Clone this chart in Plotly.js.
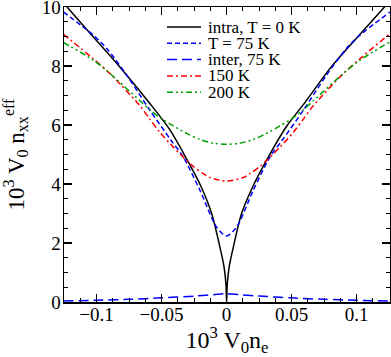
<!DOCTYPE html>
<html>
<head>
<meta charset="utf-8">
<script src="https://cdn.plot.ly/plotly-3.0.1.min.js"></script>
<style>html,body{margin:0;padding:0;background:#fff;}#chart{width:391px;height:357px;}</style>
</head>
<body>
<div id="chart"></div>
<script>
// intra, T = 0 K (black solid)
const xIntra = [-0.1255, -0.1218, -0.1026, -0.0821, -0.059, -0.0438, -0.0295, -0.02, -0.0115, -0.0052, -0.002, -0.0005, 0, 0.0005, 0.002, 0.0052, 0.0115, 0.02, 0.03, 0.046, 0.06, 0.0795, 0.1, 0.1205, 0.1256];
const yIntra = [10.15, 9.96, 8.99, 7.97, 6.73, 5.85, 4.75, 3.95, 3.0, 1.87, 1.2, 0.6, 0, 0.6, 1.2, 1.87, 3.0, 3.9, 4.75, 5.95, 6.75, 7.92, 8.95, 9.96, 10.2];
// T = 75 K (blue short dash)
const x75 = [-0.1255, -0.1026, -0.0923, -0.0769, -0.059, -0.043, -0.0334, -0.0205, -0.0077, 0, 0.0077, 0.0205, 0.0334, 0.043, 0.059, 0.0769, 0.0923, 0.1026, 0.1256];
const y75 = [9.83, 9.05, 8.6, 7.7, 6.5, 5.5, 4.92, 3.79, 2.54, 2.24, 2.54, 3.79, 4.92, 5.5, 6.5, 7.7, 8.6, 9.05, 9.83];
// inter, 75 K (blue long dash)
const xInter = [-0.1255, -0.1, -0.075, -0.05, -0.025, -0.01, 0, 0.01, 0.025, 0.05, 0.075, 0.1, 0.1256];
const yInter = [0.03, 0.06, 0.09, 0.14, 0.2, 0.25, 0.28, 0.25, 0.2, 0.14, 0.09, 0.06, 0.03];
// 150 K (red dash-dot)
const x150 = [-0.1255, -0.1026, -0.0898, -0.0666, -0.059, -0.0513, -0.041, -0.0308, -0.0257, -0.0179, -0.0128, 0, 0.0128, 0.0179, 0.0257, 0.0308, 0.041, 0.0513, 0.059, 0.0666, 0.0898, 0.1026, 0.1256];
const y150 = [9.08, 8.25, 7.75, 6.65, 6.2, 5.75, 5.25, 4.8, 4.6, 4.35, 4.22, 4.1, 4.22, 4.35, 4.6, 4.8, 5.25, 5.75, 6.2, 6.65, 7.75, 8.25, 9.1];
// 200 K (green dash-dot-dot)
const x200 = [-0.1255, -0.1026, -0.0898, -0.0666, -0.059, -0.0513, -0.041, -0.03, -0.0205, -0.01, 0, 0.01, 0.0205, 0.03, 0.041, 0.0513, 0.059, 0.0666, 0.0898, 0.1026, 0.1256];
const y200 = [8.8, 8.2, 7.75, 6.82, 6.52, 6.25, 5.97, 5.7, 5.51, 5.38, 5.35, 5.38, 5.51, 5.7, 5.97, 6.25, 6.52, 6.82, 7.75, 8.2, 8.82];

const legendNames = ['intra, T = 0 K', 'T = 75 K', 'inter, 75 K', '150 K', '200 K'];
const xTickVals = [-0.1, -0.05, 0, 0.05, 0.1];
const yTickVals = [0, 2, 4, 6, 8, 10];

const styles = [
  {color: '#000000', dash: 'solid'},
  {color: '#0000ff', dash: '5px,3px'},
  {color: '#0000ff', dash: '10px,5px'},
  {color: '#ff0000', dash: '6px,3px,2px,3px'},
  {color: '#00a000', dash: '6px,3px,2px,3px,2px,3px'}
];
const series = [[xIntra, yIntra], [x75, y75], [xInter, yInter], [x150, y150], [x200, y200]];

const traces = series.map((s, i) => ({
  x: s[0], y: s[1], type: 'scatter', mode: 'lines', name: legendNames[i],
  line: {color: styles[i].color, dash: styles[i].dash, width: 1.5, shape: 'spline', smoothing: 0.8},
  showlegend: false, hoverinfo: 'skip'
}));

const F = 'Times New Roman, Liberation Serif, DejaVu Serif, serif';
const L = 64, W = 326, T = 7, H = 295;
const px2x = p => (p - L) / W;
const py2y = p => (T + H - p) / H;

const shapes = [], annotations = [];
legendNames.forEach((n, i) => {
  const yy = py2y(27 + 16.3 * i);
  shapes.push({type: 'line', xref: 'paper', yref: 'paper', x0: px2x(167), x1: px2x(201), y0: yy, y1: yy,
    line: {color: styles[i].color, dash: styles[i].dash, width: 1.5}});
  annotations.push({xref: 'paper', yref: 'paper', x: px2x(206), y: yy, xanchor: 'left', yanchor: 'middle',
    text: n, showarrow: false, font: {family: F, size: 17, color: '#000'}});
});

const axisCommon = {
  showline: true, linecolor: '#000', linewidth: 1.5, mirror: 'allticks',
  ticks: 'inside', ticklen: 8, tickwidth: 1.2, tickcolor: '#000',
  showgrid: false, zeroline: false, ticklabeloverflow: 'allow',
  tickfont: {family: F, size: 19, color: '#000'}
};

const layout = {
  width: 391, height: 357,
  margin: {l: L, r: 391 - L - W, t: T, b: 357 - T - H},
  paper_bgcolor: '#fff', plot_bgcolor: '#fff',
  font: {family: F, color: '#000'},
  xaxis: Object.assign({}, axisCommon, {
    range: [-0.125, 0.1256], tickvals: xTickVals, ticklabelstandoff: -5,
    minor: {dtick: 0.0125, tick0: 0, ticks: 'inside', ticklen: 4, tickwidth: 1, tickcolor: '#000'},
    title: {text: '10<sup>3</sup> V<sub>0</sub>n<sub>e</sub>', font: {family: F, size: 24, color: '#000'}, standoff: 24}
  }),
  yaxis: Object.assign({}, axisCommon, {
    range: [0, 10], tickvals: yTickVals, ticklabelstandoff: -2,
    minor: {dtick: 0.5, tick0: 0, ticks: 'inside', ticklen: 4, tickwidth: 1, tickcolor: '#000'},
    title: {text: '10<sup>3</sup> V<sub>0</sub> n<sub>xx</sub><sup>eff</sup>', font: {family: F, size: 23, color: '#000'}, standoff: 12}
  }),
  shapes: shapes, annotations: annotations,
  showlegend: false
};

Plotly.newPlot('chart', traces, layout, {displayModeBar: false, staticPlot: true});
</script>
</body>
</html>
